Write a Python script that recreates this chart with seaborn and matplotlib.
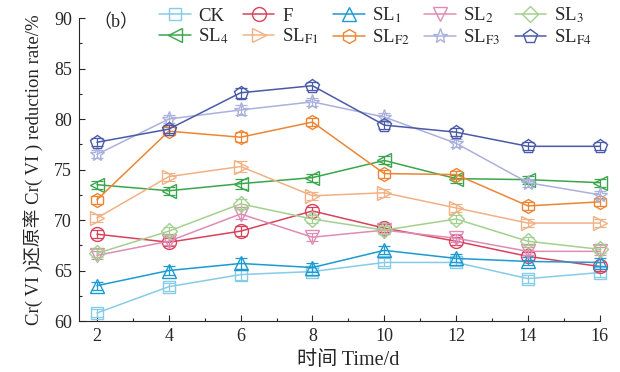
import matplotlib
matplotlib.use("Agg")
import matplotlib.pyplot as plt
import seaborn as sns
import pandas as pd
from matplotlib.ticker import MultipleLocator

# %% data
days = [2, 4, 6, 8, 10, 12, 14, 16]

ck   = [60.8, 63.4, 64.6, 64.9, 65.8, 65.8, 64.2, 64.8]
f    = [68.6, 67.8, 68.9, 70.9, 69.2, 67.9, 66.4, 65.4]
sl1  = [63.5, 65.0, 65.7, 65.3, 67.0, 66.2, 65.9, 65.8]
sl2  = [66.5, 67.9, 70.6, 68.3, 69.0, 68.2, 66.9, 66.9]
sl3  = [66.7, 68.9, 71.6, 70.1, 69.0, 70.1, 67.9, 67.1]
sl4  = [73.5, 72.9, 73.6, 74.2, 75.9, 74.1, 74.0, 73.7]
slf1 = [70.2, 74.3, 75.3, 72.4, 72.7, 71.2, 69.7, 69.7]
slf2 = [72.0, 78.8, 78.2, 79.7, 74.6, 74.5, 71.4, 71.8]
slf3 = [76.5, 80.0, 80.9, 81.7, 80.2, 77.6, 73.7, 72.5]
slf4 = [77.7, 79.0, 82.6, 83.3, 79.4, 78.7, 77.3, 77.3]

err = [0.4, 0.4, 0.5, 0.4, 0.4, 0.4, 0.4, 0.4]

names = ["CK", "F", "SL$_1$", "SL$_2$", "SL$_3$",
         "SL$_4$", "SL$_{\\mathrm{F1}}$", "SL$_{\\mathrm{F2}}$",
         "SL$_{\\mathrm{F3}}$", "SL$_{\\mathrm{F4}}$"]
values = [ck, f, sl1, sl2, sl3, sl4, slf1, slf2, slf3, slf4]
colors = ["#86cbe8", "#d8425c", "#1c9ad2", "#e08bb4", "#a4d08f",
          "#3aa64c", "#f1b184", "#ee8535", "#aab1dc", "#4a5aa8"]
markers = ["s", "o", "^", "v", "D", "<", ">", "h", "*", "p"]
msizes = [9, 10, 10, 10, 8, 10, 10, 10, 11, 10]

# %%
sns.set_style("ticks")
plt.rcParams["font.family"] = ["Liberation Serif", "Noto Sans CJK SC"]
plt.rcParams["mathtext.fontset"] = "stix"
plt.rcParams["xtick.direction"] = "in"
plt.rcParams["ytick.direction"] = "in"

fig = plt.figure(figsize=(6.2, 3.72), dpi=100)
ax = fig.add_axes([0.1274, 0.137, 0.840, 0.8145])

for name, vals, c, m, ms in zip(names, values, colors, markers, msizes):
    df = pd.DataFrame({"day": days, "val": vals})
    sns.lineplot(data=df, x="day", y="val", ax=ax, color=c, marker=m,
                 markersize=ms, markerfacecolor="none", markeredgecolor=c,
                 markeredgewidth=1.0, linewidth=1.1, label=name, clip_on=False)
    ax.errorbar(days, vals, yerr=err, fmt="none", ecolor=c, elinewidth=0.9,
                capsize=4, capthick=0.9, clip_on=False)

ax.set_xlim(1.5, 16)
ax.set_ylim(60, 90)
ax.xaxis.set_major_locator(MultipleLocator(2))
ax.xaxis.set_minor_locator(MultipleLocator(1))
ax.yaxis.set_major_locator(MultipleLocator(5))
ax.yaxis.set_minor_locator(MultipleLocator(2.5))
ax.tick_params(which="major", length=4, labelsize=13, width=0.8, pad=5)
ax.tick_params(which="minor", length=2.5, width=0.8)
sns.despine(ax=ax)

ax.set_xlabel("时间 Time/d", fontsize=14.5)
ax.xaxis.set_label_coords(0.516, -0.1)
ax.set_ylabel("Cr( VI )还原率 Cr( VI ) reduction rate/%", fontsize=13.5,
              labelpad=8)
fig.text(0.187, 0.938, "（b）", fontsize=13, ha="center", va="center")

h, l = ax.get_legend_handles_labels()
ax.get_legend().remove()
order = [0, 5, 1, 6, 2, 7, 3, 8, 4, 9]
fig.legend([h[i] for i in order], [l[i] for i in order], ncol=5,
           loc="upper left", bbox_to_anchor=(0.256, 0.985),
           bbox_transform=fig.transFigure, frameon=False,
           fontsize=13.5, handlelength=1.7, columnspacing=0.75,
           labelspacing=0.1, handletextpad=0.4, borderpad=0,
           borderaxespad=0)

fig.savefig("out.png", dpi=100)
